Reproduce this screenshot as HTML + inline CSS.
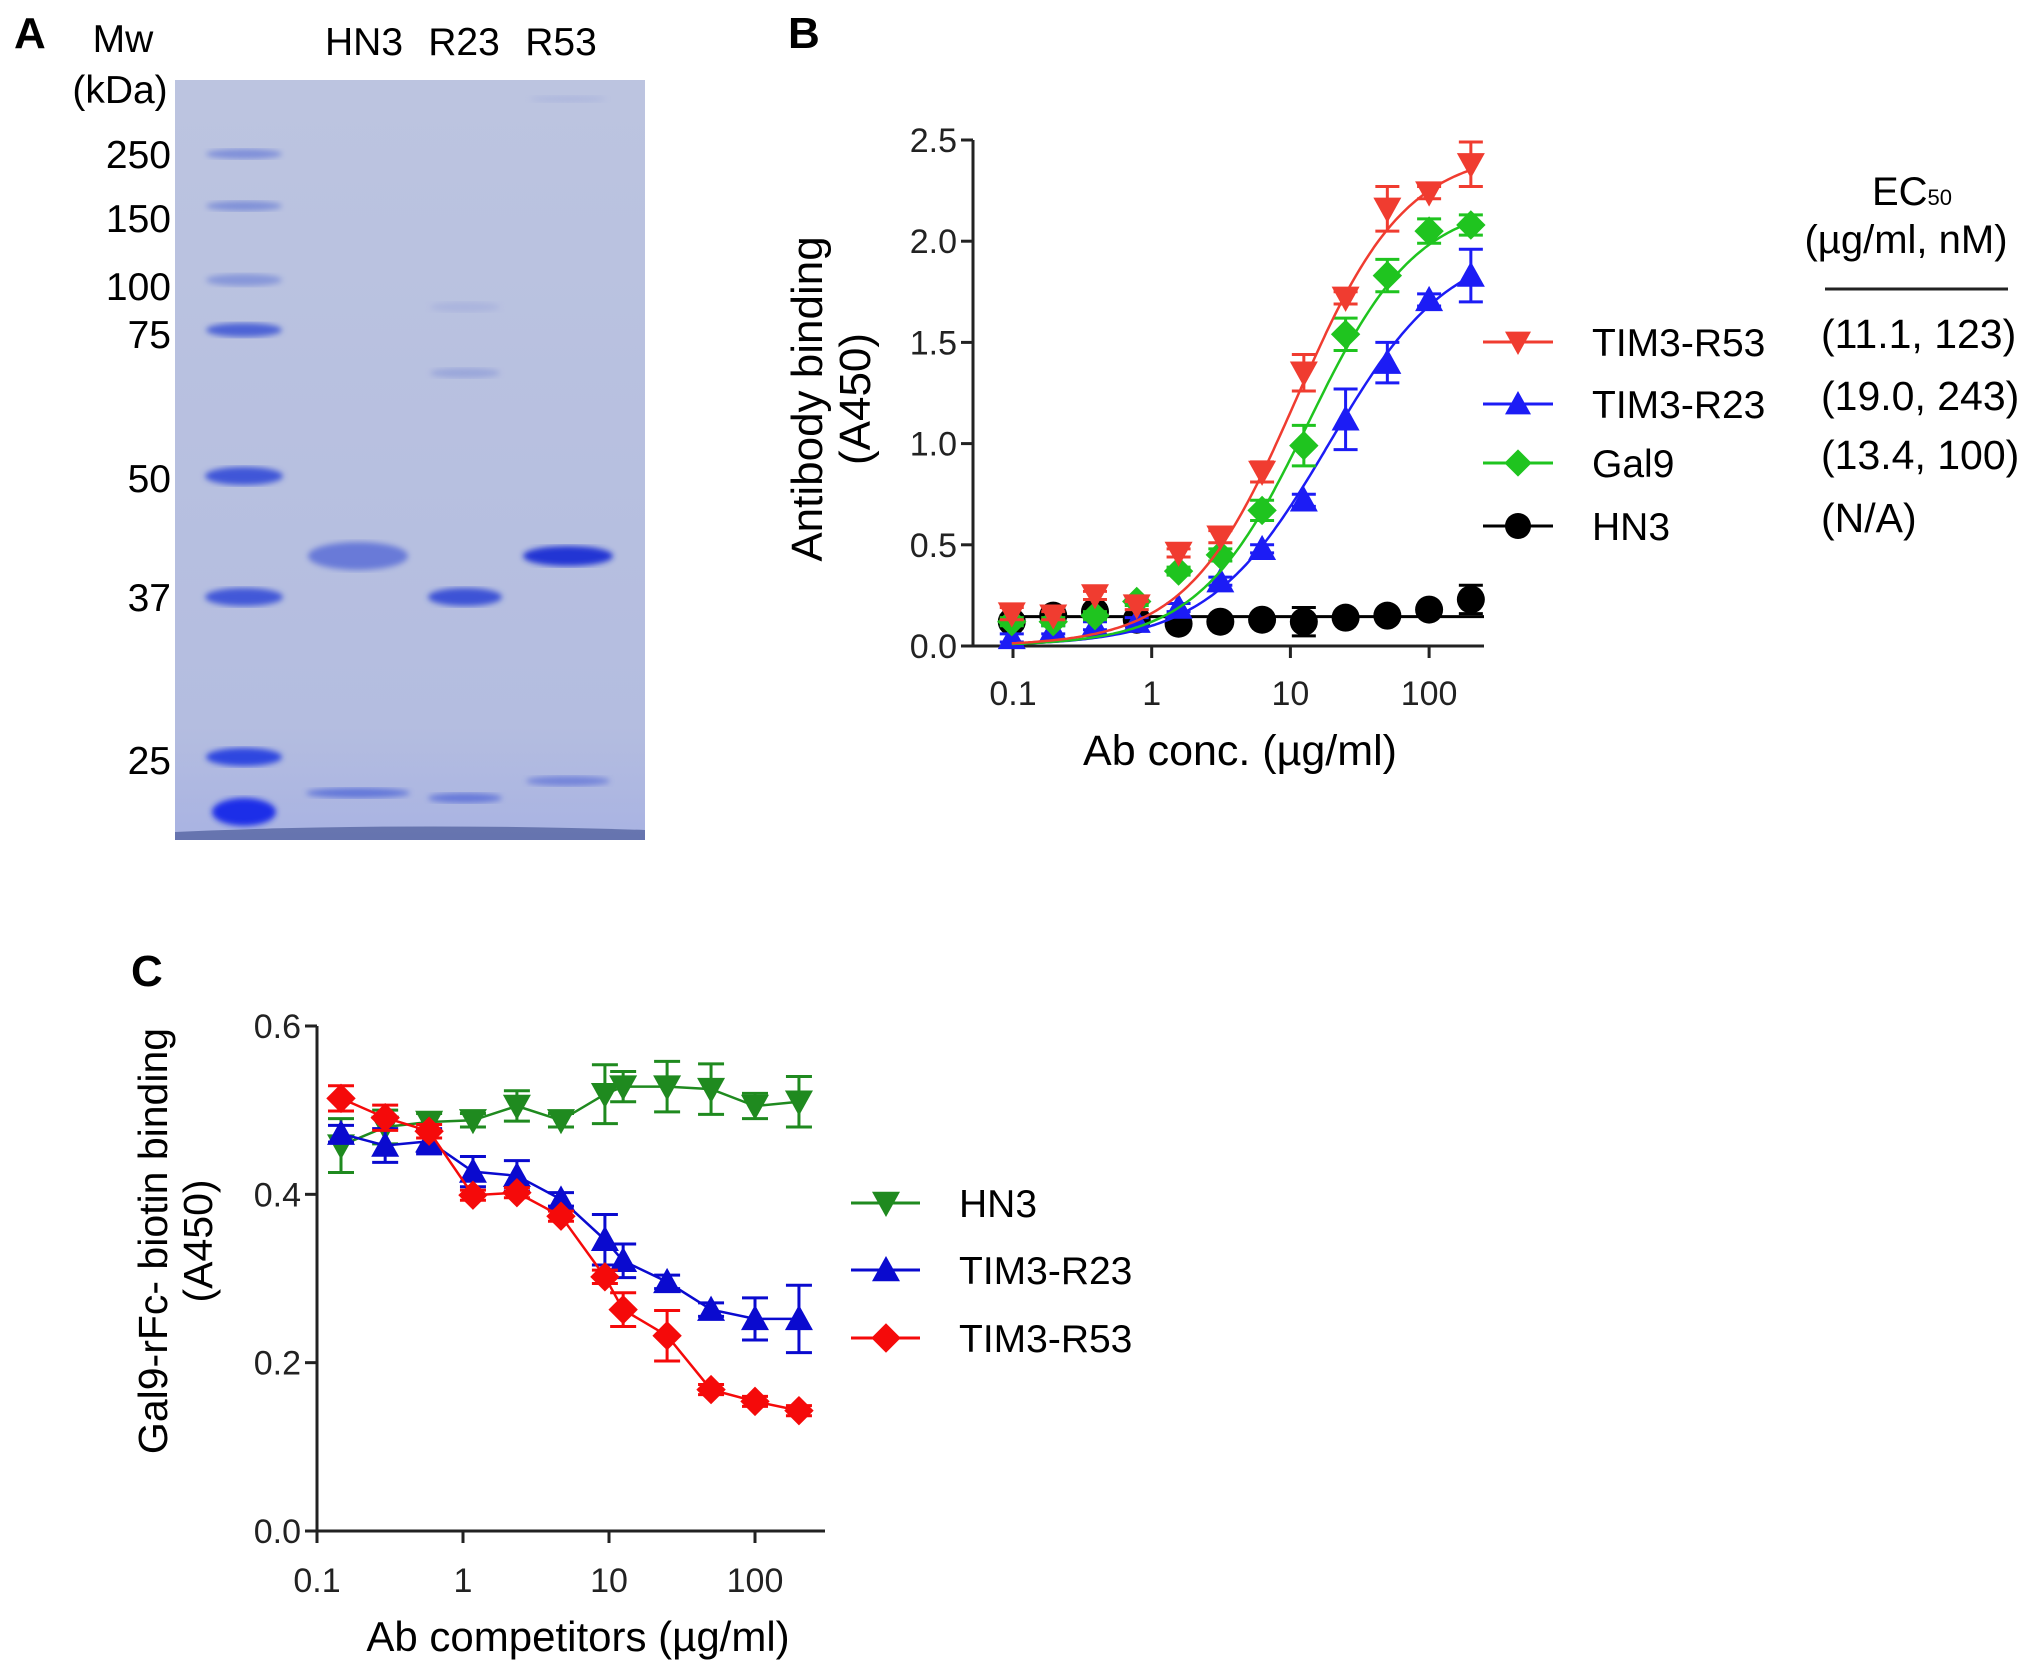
<!DOCTYPE html>
<html><head><meta charset="utf-8"><style>
html,body{margin:0;padding:0;background:#fff}
svg{display:block;font-family:"Liberation Sans",sans-serif}
</style></head><body>
<svg id="fig" width="2031" height="1671" viewBox="0 0 2031 1671" xmlns="http://www.w3.org/2000/svg">
<defs>
<filter id="blur3"><feGaussianBlur stdDeviation="3"/></filter>
<linearGradient id="gelbg" x1="0" y1="0" x2="0" y2="1"><stop offset="0" stop-color="#bcc4e0"/><stop offset="0.85" stop-color="#b4bde0"/><stop offset="1" stop-color="#a9b3e2"/></linearGradient>
</defs>
<g id="panelA">
<text x="14" y="48" font-size="44" font-weight="bold">A</text>
<text x="123" y="52" font-size="39" text-anchor="middle">Mw</text>
<text x="120" y="103" font-size="39" text-anchor="middle">(kDa)</text>
<text x="364" y="55" font-size="39" text-anchor="middle">HN3</text>
<text x="464" y="55" font-size="39" text-anchor="middle">R23</text>
<text x="561" y="55" font-size="39" text-anchor="middle">R53</text>
<g font-size="39" text-anchor="end">
<text x="171" y="168">250</text><text x="171" y="232">150</text><text x="171" y="300">100</text><text x="171" y="348">75</text><text x="171" y="492">50</text><text x="171" y="611">37</text><text x="171" y="774">25</text>
</g>
<rect x="175" y="80" width="470" height="760" fill="url(#gelbg)"/>
<g id="bands"></g>
</g>
<text x="788" y="48" font-size="44" font-weight="bold">B</text>
<text x="131" y="986" font-size="44" font-weight="bold">C</text>
<g id="chartB"></g>
<g id="chartC"></g>
</svg>
<script>
// ---- Chart B data ----
const bConc = [0.098,0.195,0.39,0.78,1.5625,3.125,6.25,12.5,25,50,100,200];
const bR53 = [0.16,0.15,0.25,0.20,0.46,0.54,0.86,1.35,1.72,2.16,2.24,2.38];
const bR53Err = [0.03,0.02,0.02,0.02,0.02,0.03,0.05,0.09,0.03,0.11,0.03,0.11];
const bR23 = [0.04,0.08,0.10,0.12,0.19,0.32,0.48,0.72,1.12,1.40,1.71,1.83];
const bR23Err = [0.02,0.02,0.02,0.02,0.02,0.02,0.02,0.03,0.15,0.10,0.03,0.13];
const bGal9 = [0.12,0.12,0.15,0.22,0.37,0.45,0.67,0.99,1.54,1.83,2.05,2.08];
const bGal9Err = [0.02,0.02,0.02,0.02,0.02,0.03,0.05,0.10,0.08,0.08,0.06,0.05];
const bHN3 = [0.12,0.15,0.17,0.13,0.11,0.12,0.13,0.12,0.14,0.15,0.18,0.23];
const bHN3Err = [0.03,0.03,0.03,0.02,0.02,0.02,0.02,0.07,0.02,0.02,0.02,0.07];
const bHN3Line = [0.145];
const bFitR53 = [0, 2.45, 11.1, 1.1];
const bFitR23 = [0, 2.0, 19.0, 1.0];
const bFitGal9 = [0, 2.2, 13.4, 1.1];
const bYTicks = [0,0.5,1.0,1.5,2.0,2.5];
const bYLabels = ["0.0","0.5","1.0","1.5","2.0","2.5"];
const bXTicks = [0.1,1,10,100];
const bXLabels = ["0.1","1","10","100"];
const bLegendNames = ["TIM3-R53","TIM3-R23","Gal9","HN3"];
const bLegendEC50 = ["(11.1, 123)","(19.0, 243)","(13.4, 100)","(N/A)"];
// ---- Chart C data ----
const cConc = [0.146,0.293,0.586,1.17,2.34,4.69,9.375,12.5,25,50,100,200];
const cHN3 = [0.458,0.48,0.486,0.488,0.505,0.488,0.519,0.528,0.528,0.525,0.505,0.51];
const cHN3Err = [0.032,0.02,0.01,0.008,0.018,0.008,0.035,0.018,0.03,0.03,0.015,0.03];
const cR23 = [0.472,0.458,0.463,0.427,0.422,0.394,0.346,0.321,0.296,0.263,0.252,0.252];
const cR23Err = [0.01,0.02,0.015,0.018,0.018,0.008,0.03,0.02,0.008,0.008,0.025,0.04];
const cR53 = [0.514,0.491,0.475,0.399,0.402,0.374,0.302,0.263,0.232,0.168,0.154,0.143];
const cR53Err = [0.015,0.015,0.008,0.006,0.006,0.006,0.008,0.02,0.03,0.006,0.006,0.006];
const cYTicks = [0,0.2,0.4,0.6];
const cYLabels = ["0.0","0.2","0.4","0.6"];
const cXTicks = [0.1,1,10,100];
const cXLabels = ["0.1","1","10","100"];
const cLegendNames = ["HN3","TIM3-R23","TIM3-R53"];

const NS="http://www.w3.org/2000/svg";
function mk(parent,tag,attrs,text){const e=document.createElementNS(NS,tag);for(const k in attrs)e.setAttribute(k,attrs[k]);if(text!==undefined)e.textContent=text;parent.appendChild(e);return e;}

// gel bands
const bands=document.getElementById('bands');
const bandSpec=[[244,154,38,5,'#6f82d8',0.8],[244,206,38,5,'#7184d6',0.8],[244,280,38,6,'#7a8cd8',0.8],[244,330,38,7,'#4d63d6',1],[244,476,39,9,'#3f57d8',1],[244,597,39,9,'#4258d8',1],[244,757,38,9,'#2e46e0',1],[244,812,32,14,'#1a2ee8',1],
[358,556,50,14,'#6577d8',0.95],[358,793,52,5,'#5a6fd8',0.9],[465,597,37,9,'#3c52d6',1],[465,373,35,5,'#8d9bd8',0.7],[465,307,35,5,'#a1acdc',0.6],[465,798,37,5,'#5f72d8',0.9],[568,556,45,10,'#2236d4',1],[568,781,42,5,'#6577d8',0.8],[568,99,38,3,'#a3addc',0.6]];
bandSpec.forEach(b=>{
 const el=mk(bands,'ellipse',{cx:b[0],cy:b[1],rx:b[2],ry:b[3],fill:b[4],opacity:b[5],filter:'url(#blur3)'});
 
 
});
const edge=mk(bands,'path',{d:'M175 832 Q400 822 645 830 L645 840 L175 840 Z',fill:'#4a5a9a',opacity:0.7});



function marker(g,type,x,y,s,color){
 let el;
 if(type==='down') el=mk(g,'path',{d:`M${x-s} ${y-s*0.8}L${x+s} ${y-s*0.8}L${x} ${y+s}Z`,fill:color});
 else if(type==='up') el=mk(g,'path',{d:`M${x-s} ${y+s*0.8}L${x+s} ${y+s*0.8}L${x} ${y-s}Z`,fill:color});
 else if(type==='diamond') el=mk(g,'path',{d:`M${x} ${y-s*1.05}L${x+s*1.05} ${y}L${x} ${y+s*1.05}L${x-s*1.05} ${y}Z`,fill:color});
 else el=mk(g,'circle',{cx:x,cy:y,r:s,fill:color});
 return el;
}

// ---- draw B ----
(function(){
 const g=document.getElementById('chartB');
 const x0=1013,dec=138.7,yb=646,yt=140,ax=973,xend=1484;
 const X=v=>x0+Math.log10(v/0.1)*dec, Y=v=>yb-(v/2.5)*(yb-yt);
 const axes=mk(g,'path',{d:`M${ax} ${yt}L${ax} ${yb}L${xend} ${yb}`,stroke:'#222',fill:'none','stroke-width':3});
 
 
 bYTicks.forEach((t,i)=>{mk(g,'line',{x1:ax-12,x2:ax,y1:Y(t),y2:Y(t),stroke:'#222','stroke-width':3});
  const l=mk(g,'text',{x:ax-16,y:Y(t)+12,'font-size':34,'text-anchor':'end',fill:'#222'},bYLabels[i]);
  
  });
 bXTicks.forEach((t,i)=>{mk(g,'line',{x1:X(t),x2:X(t),y1:yb,y2:yb+12,stroke:'#222','stroke-width':3});
  const l=mk(g,'text',{x:X(t),y:705,'font-size':34,'text-anchor':'middle',fill:'#222'},bXLabels[i]);
  
  });
 const yt1=mk(g,'text',{x:0,y:0,'font-size':44,'text-anchor':'middle',transform:'translate(822,399) rotate(-90)'},'Antibody binding');
 
 
 const yt2=mk(g,'text',{x:0,y:0,'font-size':44,'text-anchor':'middle',transform:'translate(870,399) rotate(-90)'},'(A450)');
 
 
 const xt=mk(g,'text',{x:1240,y:765,'font-size':43,'text-anchor':'middle'},'Ab conc. (µg/ml)');
 
 
 const series=[
  {v:bHN3,e:bHN3Err,c:'#000',m:'circle',fit:null,name:'hn3'},
  {v:bR23,e:bR23Err,c:'#1c1cf5',m:'up',fit:bFitR23,name:'tim3-r23'},
  {v:bGal9,e:bGal9Err,c:'#1fc41f',m:'diamond',fit:bFitGal9,name:'gal9'},
  {v:bR53,e:bR53Err,c:'#f03c30',m:'down',fit:bFitR53,name:'tim3-r53'}];
 series.forEach(s=>{
  const sg=mk(g,'g',{});
  
  
  if(s.fit){const p=s.fit;let d='';for(let i=0;i<=200;i++){const lx=Math.log10(bConc[0])+i/200*(Math.log10(bConc[bConc.length-1])-Math.log10(bConc[0]));const c=Math.pow(10,lx);const y=p[0]+(p[1]-p[0])/(1+Math.pow(p[2]/c,p[3]));d+=(i?'L':'M')+X(c).toFixed(1)+' '+Y(y).toFixed(1);}
   mk(sg,'path',{d,stroke:s.c,fill:'none','stroke-width':2.5});}
  else mk(sg,'line',{x1:X(bConc[0]),x2:xend,y1:Y(bHN3Line[0]),y2:Y(bHN3Line[0]),stroke:s.c,'stroke-width':3});
  s.v.forEach((v,i)=>{const x=X(bConc[i]);
   mk(sg,'path',{d:`M${x} ${Y(v-s.e[i])}L${x} ${Y(v+s.e[i])}M${x-12} ${Y(v-s.e[i])}L${x+12} ${Y(v-s.e[i])}M${x-12} ${Y(v+s.e[i])}L${x+12} ${Y(v+s.e[i])}`,stroke:s.c,'stroke-width':3,fill:'none'});
   const mEl=marker(sg,s.m,x,Y(v),s.m==='circle'?14:14,s.c);
   
   });
 });
 const lc=['#f03c30','#1c1cf5','#1fc41f','#000'],lm=['down','up','diamond','circle'],ly=[342,404,463,526];
 bLegendNames.forEach((n,i)=>{
  const lg=mk(g,'g',{});
  
  
  mk(lg,'line',{x1:1483,x2:1553,y1:ly[i],y2:ly[i],stroke:lc[i],'stroke-width':3});
  marker(lg,lm[i],1518,ly[i],13,lc[i]);
  mk(lg,'text',{x:1592,y:ly[i]+14,'font-size':39},n);
  mk(lg,'text',{x:1821,y:ly[i]+6,'font-size':41},bLegendEC50[i]);
 });
 const h1=mk(g,'text',{x:1912,y:205,'font-size':40,'text-anchor':'middle'});
 
 
 h1.appendChild(document.createTextNode('EC'));
 mk(h1,'tspan',{'font-size':22},'50');
 const h2=mk(g,'text',{x:1906,y:253,'font-size':40,'text-anchor':'middle'},'(µg/ml,  nM)');
 
 
 const hl=mk(g,'line',{x1:1825,x2:2008,y1:289,y2:289,stroke:'#222','stroke-width':3});
 
 
})();

// ---- draw C ----
(function(){
 const g=document.getElementById('chartC');
 const x0=317,dec=146,yb=1531,yt=1026,ax=317,xend=825;
 const X=v=>x0+Math.log10(v/0.1)*dec, Y=v=>yb-(v/0.6)*(yb-yt);
 const axes=mk(g,'path',{d:`M${ax} ${yt}L${ax} ${yb}L${xend} ${yb}`,stroke:'#222',fill:'none','stroke-width':3});
 
 
 cYTicks.forEach((t,i)=>{mk(g,'line',{x1:ax-12,x2:ax,y1:Y(t),y2:Y(t),stroke:'#222','stroke-width':3});
  const l=mk(g,'text',{x:ax-16,y:Y(t)+12,'font-size':34,'text-anchor':'end',fill:'#222'},cYLabels[i]);
  
  });
 cXTicks.forEach((t,i)=>{mk(g,'line',{x1:X(t),x2:X(t),y1:yb,y2:yb+12,stroke:'#222','stroke-width':3});
  const l=mk(g,'text',{x:X(t),y:1592,'font-size':34,'text-anchor':'middle',fill:'#222'},cXLabels[i]);
  
  });
 const yt1=mk(g,'text',{x:0,y:0,'font-size':41,'text-anchor':'middle',transform:'translate(167,1241) rotate(-90)'},'Gal9-rFc- biotin binding');
 
 
 const yt2=mk(g,'text',{x:0,y:0,'font-size':41,'text-anchor':'middle',transform:'translate(212,1241) rotate(-90)'},'(A450)');
 
 
 const xt=mk(g,'text',{x:578,y:1651,'font-size':42,'text-anchor':'middle'},'Ab competitors (µg/ml)');
 
 
 const series=[
  {v:cHN3,e:cHN3Err,c:'#1f8a1f',m:'down',name:'hn3'},
  {v:cR23,e:cR23Err,c:'#0a0acf',m:'up',name:'tim3-r23'},
  {v:cR53,e:cR53Err,c:'#f50a0a',m:'diamond',name:'tim3-r53'}];
 series.forEach(s=>{
  const sg=mk(g,'g',{});
  
  
  mk(sg,'path',{d:s.v.map((v,i)=>(i?'L':'M')+X(cConc[i]).toFixed(1)+' '+Y(v).toFixed(1)).join(''),stroke:s.c,fill:'none','stroke-width':2.5});
  s.v.forEach((v,i)=>{const x=X(cConc[i]);
   mk(sg,'path',{d:`M${x} ${Y(v-s.e[i])}L${x} ${Y(v+s.e[i])}M${x-13} ${Y(v-s.e[i])}L${x+13} ${Y(v-s.e[i])}M${x-13} ${Y(v+s.e[i])}L${x+13} ${Y(v+s.e[i])}`,stroke:s.c,'stroke-width':3,fill:'none'});
   const mEl=marker(sg,s.m,x,Y(v),14,s.c);
   
   });
 });
 const lc=['#1f8a1f','#0a0acf','#f50a0a'],lm=['down','up','diamond'],ly=[1203,1270,1338];
 cLegendNames.forEach((n,i)=>{
  const lg=mk(g,'g',{});
  
  
  mk(lg,'line',{x1:851,x2:920,y1:ly[i],y2:ly[i],stroke:lc[i],'stroke-width':3});
  marker(lg,lm[i],886,ly[i],14,lc[i]);
  mk(lg,'text',{x:959,y:ly[i]+14,'font-size':39},n);
 });
})();
</script>
</body></html>
